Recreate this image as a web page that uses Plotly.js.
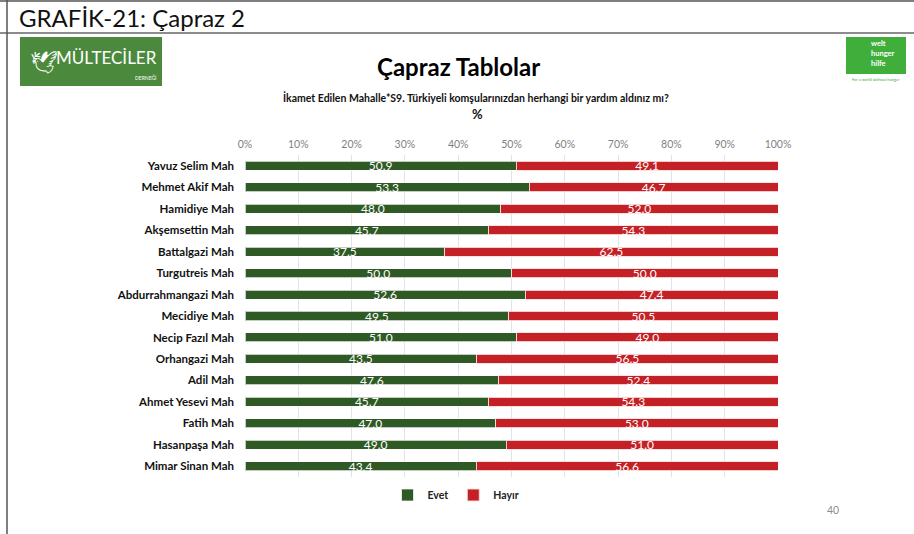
<!DOCTYPE html>
<html>
<head>
<meta charset="utf-8">
<script src="https://cdn.plot.ly/plotly-3.0.1.min.js"></script>
<style>html,body{margin:0;padding:0;background:#fff;}#chart{width:914px;height:534px;}</style>
</head>
<body>
<div id="chart"></div>
<script>
const categories = ["Yavuz Selim Mah","Mehmet Akif Mah","Hamidiye Mah","Akşemsettin Mah","Battalgazi Mah","Turgutreis Mah","Abdurrahmangazi Mah","Mecidiye Mah","Necip Fazıl Mah","Orhangazi Mah","Adil Mah","Ahmet Yesevi Mah","Fatih Mah","Hasanpaşa Mah","Mimar Sinan Mah"];
const evet  = [50.9,53.3,48.0,45.7,37.5,50.0,52.6,49.5,51.0,43.5,47.6,45.7,47.0,49.0,43.4];
const hayir = [49.1,46.7,52.0,54.3,62.5,50.0,47.4,50.5,49.0,56.5,52.4,54.3,53.0,51.0,56.6];
const tickVals = [0,10,20,30,40,50,60,70,80,90,100];
const tickText = ["0%","10%","20%","30%","40%","50%","60%","70%","80%","90%","100%"];

const W = 914, H = 534;
const L = 245, R = 778, T = 155, B = 477;
const px = x => (x - L) / (R - L);
const py = y => (B - y) / (B - T);
const FONT = "Lato, 'Open Sans', sans-serif";

const common = {
  type: 'bar', orientation: 'h', y: categories,
  texttemplate: '%{x:.1f}', textposition: 'inside', insidetextanchor: 'middle',
  textfont: {color: '#ffffff', size: 12, family: FONT},
  constraintext: 'none', hoverinfo: 'skip', cliponaxis: false
};
const traces = [
  Object.assign({}, common, {name: 'Evet', x: evet,
    marker: {color: '#2f5a26', line: {color: 'rgba(255,255,255,0.7)', width: 1}}}),
  Object.assign({}, common, {name: 'Hayır', x: hayir,
    marker: {color: '#c42126', line: {color: 'rgba(255,220,220,0.9)', width: 1}}})
];

const ann = (x, y, text, opts) => Object.assign({
  xref: 'paper', yref: 'paper', x: px(x), y: py(y), text: text, showarrow: false,
  xanchor: 'center', yanchor: 'middle', font: {family: FONT, size: 10, color: '#000'}
}, opts || {});
const rect = (x0, y0, x1, y1, fill, line) => ({
  type: 'rect', xref: 'paper', yref: 'paper', x0: px(x0), x1: px(x1), y0: py(y0), y1: py(y1),
  fillcolor: fill, line: line || {width: 0}, layer: 'below'
});
const hline = (x0, x1, y, c, w) => ({type: 'line', xref: 'paper', yref: 'paper',
  x0: px(x0), x1: px(x1), y0: py(y), y1: py(y), line: {color: c, width: w}});
const vline = (x, y0, y1, c, w) => ({type: 'line', xref: 'paper', yref: 'paper',
  x0: px(x), x1: px(x), y0: py(y0), y1: py(y1), line: {color: c, width: w}});

const layout = {
  width: W, height: H,
  margin: {l: L, r: W - R, t: T, b: H - B, pad: 0},
  paper_bgcolor: '#fff', plot_bgcolor: '#fff',
  barmode: 'stack', bargap: 0.58,
  font: {family: FONT},
  showlegend: true,
  legend: {orientation: 'h', traceorder: 'normal', x: px(456), y: py(495), xanchor: 'center', yanchor: 'middle',
    font: {size: 10.5, color: '#222', weight: 'bold', family: FONT}, itemwidth: 30, tracegroupgap: 0},
  xaxis: {range: [0, 100], side: 'top', tickmode: 'array', tickvals: tickVals, ticktext: tickText,
    tickfont: {size: 10.5, color: '#7f7f7f', family: FONT}, showgrid: true, gridcolor: '#dde4ec',
    gridwidth: 1, zeroline: false, showline: false, ticks: '', ticklabelstandoff: 4, fixedrange: true},
  yaxis: {autorange: 'reversed', tickfont: {size: 11.5, color: '#111', weight: 'bold', family: FONT},
    ticks: '', showline: false, ticklabelstandoff: 10, fixedrange: true},
  shapes: [
    hline(0, 914, 1, '#555', 1.5),
    hline(0, 914, 33, '#666', 1.5),
    vline(7, 0, 534, '#555', 1.5),
    rect(20, 37, 162, 86, '#4b8a3c'),
    rect(846, 37, 906, 74, '#3fae3a')
  ],
  annotations: [
    ann(17, 17, 'GRAFİK-21: Çapraz 2', {xanchor: 'left', font: {family: FONT, size: 24, color: '#111'}}),
    ann(106, 58, 'MÜLTECİLER', {font: {family: FONT, size: 17, color: '#ffffff'}}),
    ann(146, 77, 'DERNEĞİ', {font: {family: FONT, size: 5, color: '#ffffff'}}),
    ann(44, 62, '🕊', {font: {family: FONT, size: 22, color: '#ffffff'}}),
    ann(869, 54, 'welt<br>hunger<br>hilfe', {xanchor: 'left', align: 'left',
      font: {family: FONT, size: 7.5, color: '#ffffff', weight: 'bold'}}),
    ann(876, 79, 'For a world without hunger', {font: {family: FONT, size: 4, color: '#3fae3a'}}),
    ann(458, 67, 'Çapraz Tablolar', {font: {family: FONT, size: 24, color: '#000', weight: 'bold'}}),
    ann(476, 98, 'İkamet Edilen Mahalle*S9. Türkiyeli komşularınızdan herhangi bir yardım aldınız mı?',
      {font: {family: FONT, size: 10.5, color: '#111', weight: 'bold'}}),
    ann(477, 114, '%', {font: {family: FONT, size: 13, color: '#111', weight: 'bold'}}),
    ann(833, 510, '40', {font: {family: FONT, size: 10.5, color: '#8c8c8c'}})
  ]
};

Plotly.newPlot('chart', traces, layout, {displayModeBar: false, staticPlot: true});
</script>
</body>
</html>
